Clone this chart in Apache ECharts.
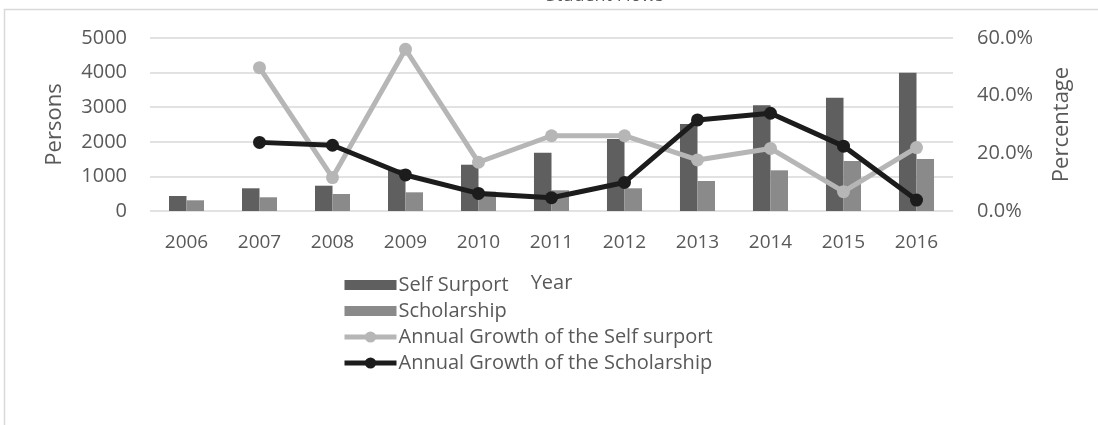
<!DOCTYPE html>
<html>
<head>
<meta charset="utf-8">
<script src="https://cdn.jsdelivr.net/npm/echarts@6/dist/echarts.min.js"></script>
<style>
  html, body { margin: 0; padding: 0; background: #ffffff; }
  #chart { width: 1098px; height: 425px; }
</style>
</head>
<body>
<div id="chart"></div>
<script>
// Student numbers by year and their year-on-year growth rates
var years = ['2006', '2007', '2008', '2009', '2010', '2011', '2012', '2013', '2014', '2015', '2016'];
var selfSupport = [434, 656, 731, 1200, 1338, 1685, 2081, 2514, 3055, 3275, 3997];
var scholarship = [309, 396, 491, 540, 560, 598, 656, 867, 1176, 1445, 1503];
var growthSelf = [null, 0.497, 0.116, 0.561, 0.169, 0.261, 0.261, 0.177, 0.217, 0.067, 0.220];
var growthScholar = [null, 0.238, 0.228, 0.125, 0.061, 0.046, 0.099, 0.316, 0.339, 0.225, 0.038];
var personTicks = { min: 0, max: 5000, step: 1000 };
var percentTicks = { min: 0, max: 0.6, step: 0.2 };

var FONT = '"Open Sans", sans-serif';
var TEXT = '#595959';
var GRID = '#d9d9d9';

var chart = echarts.init(document.getElementById('chart'), null, { renderer: 'canvas' });

chart.setOption({
  animation: false,
  backgroundColor: '#ffffff',
  textStyle: { fontFamily: FONT },
  title: {
    text: 'Student Flows',
    left: 600,
    top: -18,
    textAlign: 'center',
    textStyle: { fontFamily: FONT, fontSize: 18, fontWeight: 'normal', color: TEXT }
  },
  graphic: [{
    type: 'rect',
    shape: { x: 4.5, y: 9.5, width: 1200, height: 1000 },
    style: { fill: 'none', stroke: GRID, lineWidth: 1.5 },
    silent: true,
    z: -1
  }],
  grid: { left: 150, right: 145, top: 38, bottom: 214, containLabel: false },
  legend: {
    orient: 'vertical',
    left: 337,
    top: 270,
    itemWidth: 52,
    itemHeight: 14,
    itemGap: 6,
    textStyle: { fontFamily: FONT, fontSize: 20, color: TEXT, lineHeight: 20, padding: [0, 0, 0, -3] },
    data: [
      { name: 'Self Surport', icon: 'path://M0,2 L52,2 L52,12 L0,12 Z', itemStyle: { color: '#5f5f5f' } },
      { name: 'Scholarship', icon: 'path://M0,2 L52,2 L52,12 L0,12 Z', itemStyle: { color: '#8a8a8a' } },
      { name: 'Annual Growth of the Self surport', lineStyle: { color: '#b6b6b6', width: 5 } },
      { name: 'Annual Growth of the Scholarship', lineStyle: { color: '#1c1c1c', width: 5 } }
    ]
  },
  xAxis: {
    type: 'category',
    data: years,
    name: 'Year',
    nameLocation: 'middle',
    nameGap: 62,
    nameTextStyle: { fontFamily: FONT, fontSize: 20, color: TEXT },
    axisLine: { show: false },
    axisTick: { show: false },
    axisLabel: { margin: 22, fontFamily: FONT, fontSize: 19, color: TEXT }
  },
  yAxis: [{
    type: 'value',
    min: personTicks.min,
    max: personTicks.max,
    interval: personTicks.step,
    name: 'Persons',
    nameLocation: 'middle',
    nameRotate: 90,
    nameGap: 84,
    nameTextStyle: { fontFamily: FONT, fontSize: 22, color: TEXT },
    axisLine: { show: false },
    axisTick: { show: false },
    axisLabel: {
      margin: 23, fontFamily: FONT, fontSize: 20, color: TEXT,
      formatter: function (v) { return String(v); }
    },
    splitLine: { lineStyle: { color: GRID, width: 1.5 } }
  }, {
    type: 'value',
    min: percentTicks.min,
    max: percentTicks.max,
    interval: percentTicks.step,
    name: 'Percentage',
    nameLocation: 'middle',
    nameRotate: 90,
    nameGap: 98,
    nameTextStyle: { fontFamily: FONT, fontSize: 22, color: TEXT },
    axisLine: { show: false },
    axisTick: { show: false },
    axisLabel: {
      margin: 24, fontFamily: FONT, fontSize: 20, color: TEXT,
      formatter: function (v) { return (v * 100).toFixed(1) + '%'; }
    },
    splitLine: { show: false }
  }],
  series: [{
    name: 'Self Surport',
    type: 'bar',
    data: selfSupport,
    barGap: '0%',
    barCategoryGap: '52%',
    itemStyle: { color: '#5f5f5f' }
  }, {
    name: 'Scholarship',
    type: 'bar',
    data: scholarship,
    itemStyle: { color: '#8a8a8a' }
  }, {
    name: 'Annual Growth of the Self surport',
    type: 'line',
    yAxisIndex: 1,
    data: growthSelf,
    symbol: 'circle',
    symbolSize: 13,
    lineStyle: { color: '#b6b6b6', width: 5 },
    itemStyle: { color: '#b6b6b6' }
  }, {
    name: 'Annual Growth of the Scholarship',
    type: 'line',
    yAxisIndex: 1,
    data: growthScholar,
    symbol: 'circle',
    symbolSize: 13,
    lineStyle: { color: '#1c1c1c', width: 5 },
    itemStyle: { color: '#1c1c1c' }
  }]
});
</script>
</body>
</html>
